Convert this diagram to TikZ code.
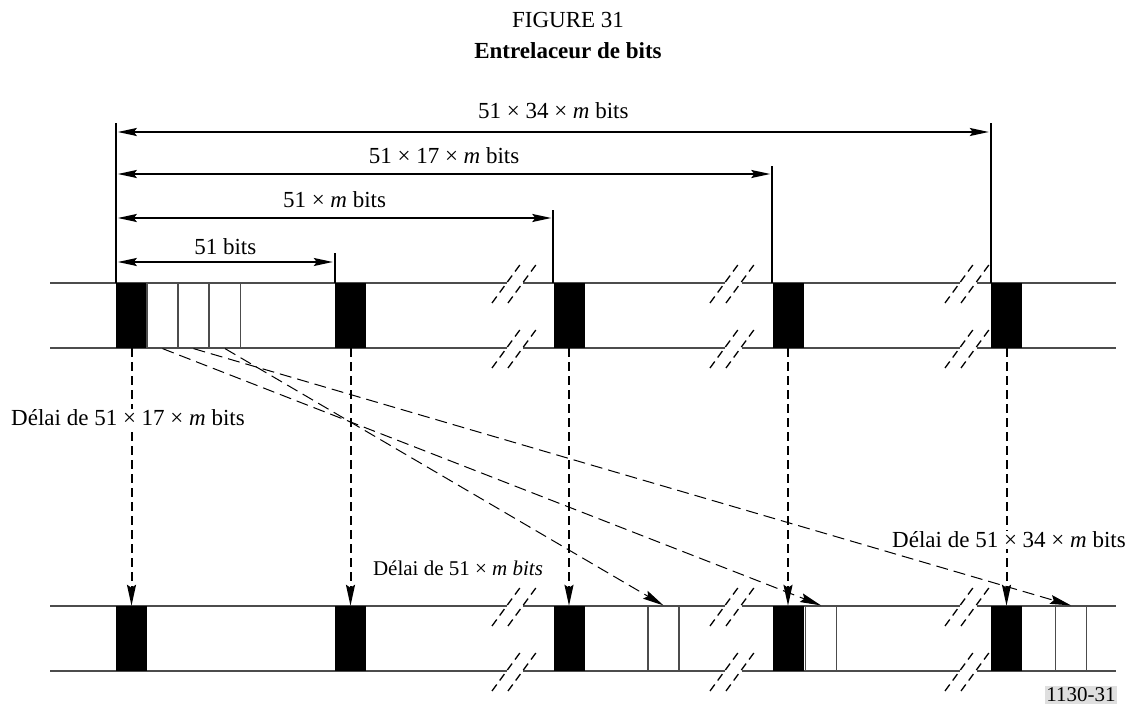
\documentclass[tikz,border=0pt]{standalone}
\usepackage{fontspec}
\setmainfont{Liberation Serif}
\usetikzlibrary{arrows.meta}

\begin{document}
\begin{tikzpicture}[x=1pt,y=-1pt,>={Stealth[length=21pt,width=9pt,inset=3pt]},
  font=\fontsize{23}{27}\selectfont,
  strip/.style={gray!60!black,line width=1.2pt},
  blk/.style={fill=black,minimum width=31pt,minimum height=65pt,inner sep=0pt},
  wbox/.style={draw=gray!60!black,fill=white,line width=1.2pt,minimum width=31pt,minimum height=65pt,inner sep=0pt},
  brk/.style={line width=1.3pt,dash pattern=on 8pt off 5pt},
  ext/.style={line width=1.8pt},
  dim/.style={<->,line width=1.8pt,shorten <=2pt,shorten >=2pt,>={Stealth[length=19pt,width=8pt,inset=3pt]}},
  vdash/.style={->,line width=2pt,dash pattern=on 9pt off 5pt},
  ddash/.style={->,line width=1pt,dash pattern=on 12pt off 6pt}]
\useasboundingbox (0,0) rectangle (1136,708);

% titre
\node (fig) at (568,20) {FIGURE 31};
\node[font=\fontsize{23}{27}\selectfont\bfseries] (ttl) at (568,51) {Entrelaceur de bits};

% les deux bandes, coupees
\foreach \y in {283,348,606,671}
  \draw[strip] (50,\y) -- (507,\y) (523,\y) -- (725,\y) (742,\y) -- (960,\y) (977,\y) -- (1116,\y);

% blocs noirs
\foreach \i/\x in {1/131.5,2/350.5,3/569,4/788,5/1006.5} {
  \node[blk] (t\i) at (\x,315.5) {};
  \node[blk] (b\i) at (\x,638.5) {};
}
\node[wbox] (w1) at (162.5,315.5) {};
\node[wbox] (w2) at (193.5,315.5) {};
\node[wbox] (w3) at (225,315.5) {};
\node[wbox] (u1) at (663.5,638.5) {};
\node[wbox] (u2) at (821,638.5) {};
\node[wbox] (u3) at (1071,638.5) {};

% coupures
\foreach \x in {507,725,960}
  \foreach \y in {283,348,606,671} {
    \draw[brk] (\x-15,\y+20) -- ++(30,-41);
    \draw[brk] (\x+1,\y+20) -- ++(30,-41);
  }

% cotes
\draw[ext] (t1.north west) -- ++(0,-160);
\draw[ext] (t2.north west) -- ++(0,-30);
\draw[ext] (t3.north west) -- ++(0,-73);
\draw[ext] (t4.north west) -- ++(0,-117);
\draw[ext] (t5.north west) -- ++(0,-160);
\draw[dim] (t1.north west |- 0,132) -- (t5.north west |- 0,132) node[midway,above=9pt] {51 × 34 × \textit{m} bits};
\draw[dim] (t1.north west |- 0,174) -- (t4.north west |- 0,174) node[midway,above=6pt] {51 × 17 × \textit{m} bits};
\draw[dim] (t1.north west |- 0,218) -- (t3.north west |- 0,218) node[midway,above=6pt] {51 × \textit{m} bits};
\draw[dim] (t1.north west |- 0,262) -- (t2.north west |- 0,262) node[midway,above=3pt] {51 bits};

% delais
\foreach \i in {1,...,5}
  \draw[vdash] (t\i.south) -- (b\i.north);
\draw[ddash] (w1.south) -- (u2.north);
\draw[ddash] (w2.south) -- (u3.north);
\draw[ddash] (w3.south) -- (u1.north);

\node[fill=white,inner sep=0.5pt] (l17) at (128,418) {Délai de 51 × 17 × \textit{m} bits};
\node[font=\fontsize{21}{24}\selectfont] (l1) at (458,568) {Délai de 51 × \textit{m bits}};
\node[fill=white,inner sep=0.5pt] (l34) at (1009,540) {Délai de 51 × 34 × \textit{m} bits};
\node[fill=gray!25,inner sep=1.5pt,font=\fontsize{21}{24}\selectfont] (ref) at (1081,695) {1130-31};
\end{tikzpicture}
\end{document}
